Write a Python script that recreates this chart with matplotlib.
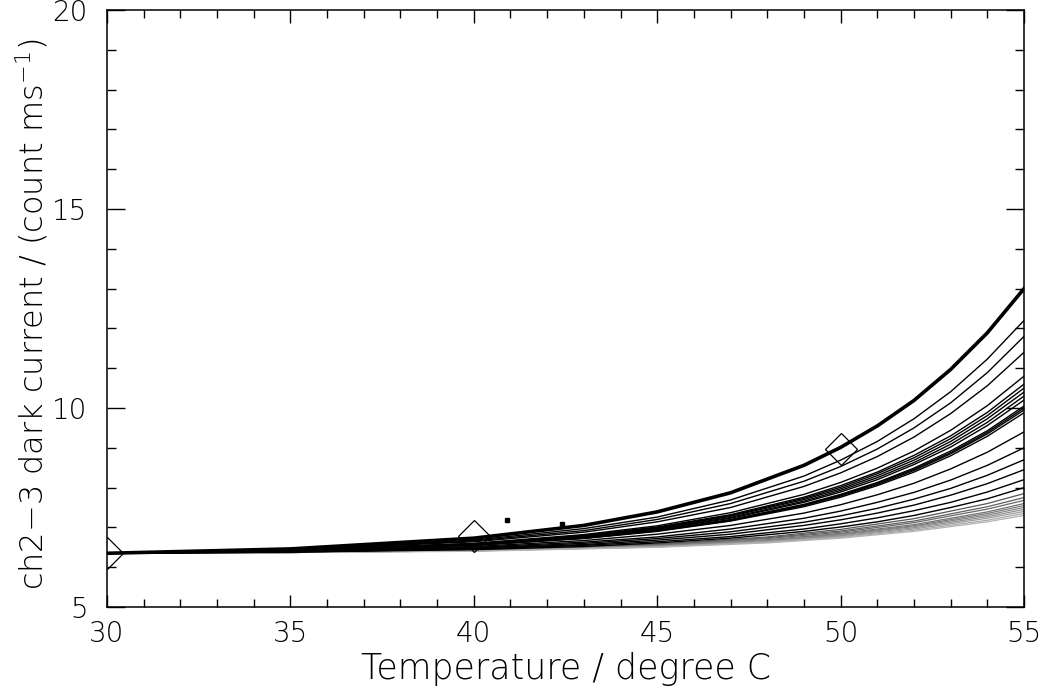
import matplotlib
matplotlib.use("Agg")
import matplotlib.pyplot as plt
from matplotlib.ticker import MultipleLocator

plt.rcParams['font.family'] = ['DejaVu Sans']
plt.rcParams['font.weight'] = 'light'
plt.rcParams['axes.labelweight'] = 'light'

# Temperature grid (degree C) for the black curves
temperature = [30, 35, 40, 43, 45, 47, 49, 50, 51, 52, 53, 54, 55]

# Upper (black) curves, dark current (count/ms)
black_upper = [
    [6.35, 6.46, 6.73, 7.05, 7.39, 7.87, 8.56, 9.01, 9.55, 10.19, 10.97, 11.89, 13.00],
    [6.35, 6.45, 6.68, 6.97, 7.26, 7.69, 8.29, 8.69, 9.16, 9.73, 10.41, 11.23, 12.20],
    [6.35, 6.44, 6.66, 6.92, 7.20, 7.60, 8.16, 8.53, 8.97, 9.50, 10.13, 10.89, 11.80],
    [6.35, 6.43, 6.64, 6.88, 7.14, 7.50, 8.03, 8.37, 8.78, 9.27, 9.86, 10.56, 11.40],
    [6.35, 6.42, 6.60, 6.82, 7.04, 7.37, 7.83, 8.13, 8.49, 8.92, 9.44, 10.06, 10.80],
    [6.35, 6.42, 6.59, 6.80, 7.01, 7.32, 7.76, 8.05, 8.39, 8.81, 9.30, 9.89, 10.60],
    [6.35, 6.42, 6.59, 6.79, 7.00, 7.30, 7.73, 8.01, 8.35, 8.75, 9.23, 9.81, 10.50],
    [6.35, 6.42, 6.58, 6.78, 6.98, 7.28, 7.70, 7.97, 8.30, 8.69, 9.16, 9.73, 10.40],
    [6.35, 6.41, 6.57, 6.77, 6.97, 7.25, 7.66, 7.93, 8.25, 8.63, 9.09, 9.64, 10.30],
    [6.35, 6.41, 6.57, 6.76, 6.95, 7.23, 7.63, 7.89, 8.20, 8.58, 9.02, 9.56, 10.20],
    [6.35, 6.41, 6.56, 6.74, 6.93, 7.20, 7.58, 7.83, 8.13, 8.49, 8.92, 9.43, 10.05],
    [6.35, 6.41, 6.56, 6.73, 6.92, 7.18, 7.56, 7.81, 8.11, 8.46, 8.88, 9.39, 10.00],
    [6.35, 6.41, 6.55, 6.73, 6.91, 7.17, 7.55, 7.79, 8.08, 8.43, 8.85, 9.35, 9.95],
    [6.35, 6.41, 6.55, 6.72, 6.90, 7.16, 7.52, 7.76, 8.05, 8.39, 8.80, 9.29, 9.88],
]

# Middle (black) curves
black_middle = [
    [6.35, 6.40, 6.52, 6.67, 6.83, 7.05, 7.36, 7.57, 7.82, 8.11, 8.47, 8.89, 9.40],
    [6.35, 6.39, 6.50, 6.63, 6.76, 6.96, 7.23, 7.41, 7.63, 7.88, 8.19, 8.56, 9.00],
    [6.35, 6.39, 6.48, 6.60, 6.72, 6.89, 7.13, 7.29, 7.48, 7.71, 7.98, 8.31, 8.70],
    [6.35, 6.38, 6.47, 6.57, 6.68, 6.83, 7.05, 7.19, 7.36, 7.56, 7.81, 8.10, 8.45],
    [6.35, 6.38, 6.46, 6.55, 6.64, 6.77, 6.96, 7.09, 7.24, 7.42, 7.63, 7.89, 8.20],
    [6.35, 6.38, 6.44, 6.52, 6.61, 6.73, 6.90, 7.01, 7.14, 7.30, 7.50, 7.72, 8.00],
]

# Temperature grid for the grey curves
grey_temperature = [30, 35, 40, 45, 48, 50, 52, 54, 55]

# Lower (grey) curves
grey_lower = [
    [6.35, 6.37, 6.44, 6.58, 6.76, 6.95, 7.22, 7.60, 7.85],
    [6.35, 6.37, 6.43, 6.57, 6.74, 6.91, 7.16, 7.52, 7.75],
    [6.35, 6.37, 6.43, 6.56, 6.72, 6.88, 7.12, 7.46, 7.68],
    [6.35, 6.37, 6.42, 6.55, 6.69, 6.85, 7.07, 7.39, 7.60],
    [6.35, 6.37, 6.42, 6.54, 6.68, 6.83, 7.04, 7.35, 7.55],
    [6.35, 6.37, 6.42, 6.53, 6.67, 6.81, 7.02, 7.31, 7.50],
    [6.35, 6.37, 6.41, 6.52, 6.65, 6.79, 6.99, 7.27, 7.45],
    [6.35, 6.37, 6.41, 6.51, 6.64, 6.77, 6.96, 7.23, 7.40],
    [6.35, 6.37, 6.41, 6.51, 6.63, 6.75, 6.93, 7.18, 7.35],
    [6.35, 6.37, 6.40, 6.50, 6.61, 6.73, 6.90, 7.14, 7.30],
]
grey_colors = ['#555555', '#5e5e5e', '#686868', '#727272', '#7c7c7c',
               '#868686', '#909090', '#9c9c9c', '#a8a8a8', '#b4b4b4']

# Diamond markers (measured points)
diamond_t = [30, 40, 50]
diamond_v = [6.35, 6.78, 8.98]

# Stray dots
dot_t = [40.9, 42.4]
dot_v = [7.18, 7.08]

fig = plt.figure(figsize=(10.49, 6.95), dpi=100)
ax = fig.add_axes([0.102, 0.1266, 0.8742, 0.859])

for vals, c in zip(grey_lower, grey_colors):
    ax.plot(grey_temperature, vals, color=c, lw=0.9)
for vals in black_middle:
    ax.plot(temperature, vals, color='black', lw=1.0)
for vals in black_upper[1:]:
    ax.plot(temperature, vals, color='black', lw=1.0)
ax.plot(temperature, black_upper[0], color='black', lw=2.6)

ax.plot(diamond_t, diamond_v, linestyle='none', marker='D', ms=16.5,
        mfc='none', mec='black', mew=0.9)
ax.plot(dot_t, dot_v, linestyle='none', marker='s', ms=2.2,
        mfc='black', mec='black')

ax.set_xlim(30, 55)
ax.set_ylim(5, 20)
ax.xaxis.set_major_locator(MultipleLocator(5))
ax.xaxis.set_minor_locator(MultipleLocator(1))
ax.yaxis.set_major_locator(MultipleLocator(5))
ax.yaxis.set_minor_locator(MultipleLocator(1))

ax.tick_params(which='both', direction='in', top=True, right=True,
               width=1.0, color='black')
ax.tick_params(axis='x', which='major', length=9, pad=9, labelsize=20)
ax.tick_params(axis='x', which='minor', length=5.5)
ax.tick_params(axis='y', which='major', length=13, pad=14, labelsize=20)
ax.tick_params(axis='y', which='minor', length=6.5)

for s in ax.spines.values():
    s.set_linewidth(1.1)
    s.set_color('black')

ax.set_xlabel('Temperature / degree C', fontsize=25, fontweight='light')
ax.set_ylabel('ch2\u22123 dark current / (count ms$^{-1}$)', fontsize=23,
              fontweight='light')
ax.xaxis.set_label_coords(0.5, -0.076)
ax.yaxis.label.set_va('center')
ax.yaxis.set_label_coords(-0.082, 0.49)

fig.savefig('out.png', dpi=100)
